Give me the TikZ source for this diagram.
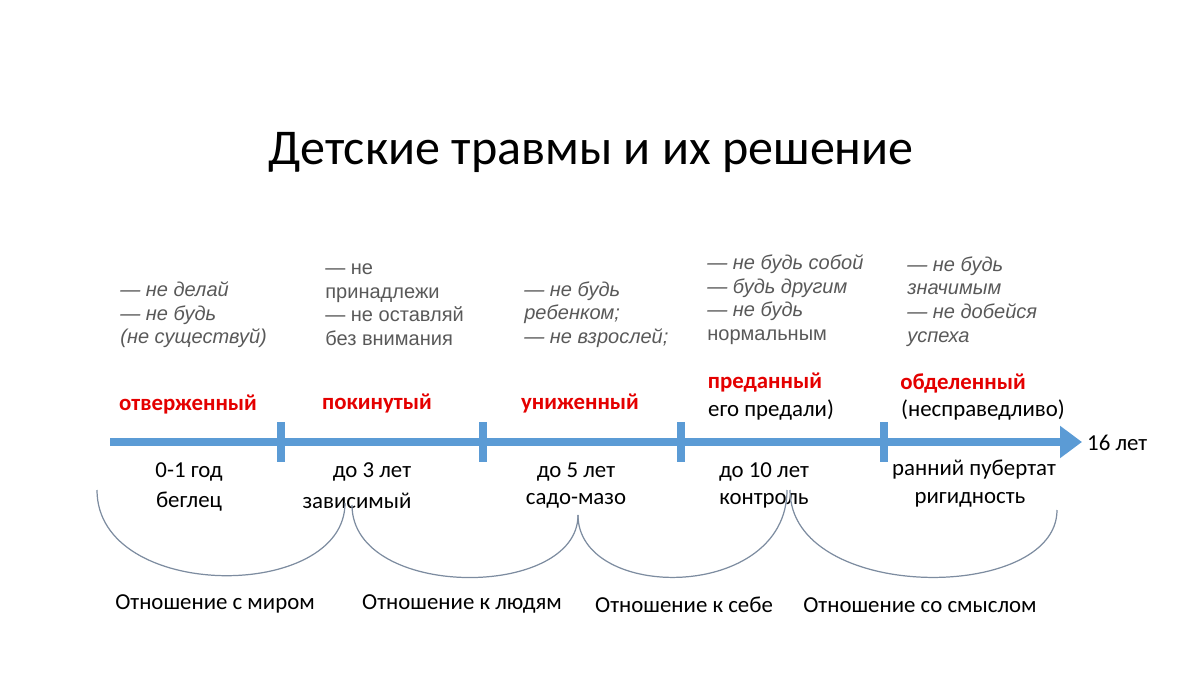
\documentclass[tikz,border=0pt]{standalone}
\usepackage{fontspec}
\setmainfont{Carlito}
\newfontfamily\arialfont{Liberation Sans}
\usetikzlibrary{arrows.meta}
\definecolor{lineblue}{RGB}{91,155,213}
\definecolor{arcgray}{RGB}{125,140,160}
\definecolor{hurtred}{RGB}{228,0,0}
\definecolor{notegray}{RGB}{89,89,89}

\begin{document}
\begin{tikzpicture}[x=0.02cm,y=-0.02cm,
  timeline/.style={draw=lineblue,line width=4pt},
  trauma/.style={text=hurtred,font=\fontsize{13}{15}\selectfont\bfseries},
  age/.style={font=\fontsize{13}{15}\selectfont},
  note/.style={text=notegray,font=\arialfont\fontsize{11.4}{13.6}\selectfont,align=left,anchor=north west,inner sep=0pt},
  bow/.style={draw=arcgray,line width=0.7pt}]

\useasboundingbox (0,0) rectangle (1200,675);

% Draw the title
\node[font=\fontsize{28.5}{32}\selectfont] (title) at (591,152) {Детские травмы и их решение};

% Draw the time axis and its ticks
\coordinate (start) at (110,442);
\coordinate (end) at (1082,442);
\draw[timeline,-{Triangle[length=0.44cm,width=0.62cm]}] (start) -- (end);
\foreach \x in {281,483,681,884}
  \draw[timeline] (\x,422) -- (\x,462);
\node[age,anchor=west] (age16) at (1081,443) {16 лет};

% Draw the messages above the axis
\node[note] (msg1) at (120,281) {\textit{— не делай}\\\textit{— не будь}\\\textit{(не существуй)}};
\node[note] (msg2) at (325,263) {— не\\принадлежи\\— не оставляй\\без внимания};
\node[note] (msg3) at (524,281) {\textit{— не будь}\\\textit{ребенком;}\\\textit{— не взрослей;}};
\node[note] (msg4) at (707,254) {\textit{— не будь собой}\\\textit{— будь другим}\\\textit{— не будь}\\нормальным};
\node[note] (msg5) at (907,256) {\textit{— не будь}\\\textit{значимым}\\\textit{— не добейся}\\\textit{успеха}};

% Draw the traumas
\node[trauma] (rejected) at (188,405) {отверженный};
\node[trauma] (abandoned) at (377,404) {покинутый};
\node[trauma] (humiliated) at (580,404) {униженный};
\node[trauma] (betrayed) at (765,383) {преданный};
\node[age] (betrayedx) at (771,410) {его предали)};
\node[trauma] (deprived) at (963,383) {обделенный};
\node[age] (deprivedx) at (983,410) {(несправедливо)};

% Draw the ages and masks
\node[age] (age1) at (189,472) {0-1 год};
\node[age] (mask1) at (189,502) {беглец};
\node[age] (age2) at (372,472) {до 3 лет};
\node[age] (mask2) at (357,501) {зависимый};
\node[age] (age3) at (576,472) {до 5 лет};
\node[age] (mask3) at (576,501) {садо-мазо};
\node[age] (age4) at (764,472) {до 10 лет};
\node[age] (mask4) at (764,501) {контроль};
\node[age] (age5) at (974,470) {ранний пубертат};
\node[age] (mask5) at (970,500) {ригидность};

% Draw the bows
\draw[bow] (97,490) .. controls (97,602) and (345,602) .. (345,503);
\draw[bow] (352,505) .. controls (352,600) and (578,600) .. (578,515);
\draw[bow] (578,515) .. controls (578,602) and (787,602) .. (787,490);
\draw[bow] (790,490) .. controls (790,603) and (1057,603) .. (1057,510);

% Draw the relations
\node[age] (world) at (215,604) {Отношение с миром};
\node[age] (people) at (462,604) {Отношение к людям};
\node[age] (self) at (684,605) {Отношение к себе};
\node[age] (sense) at (920,605) {Отношение со смыслом};

\end{tikzpicture}
\end{document}
